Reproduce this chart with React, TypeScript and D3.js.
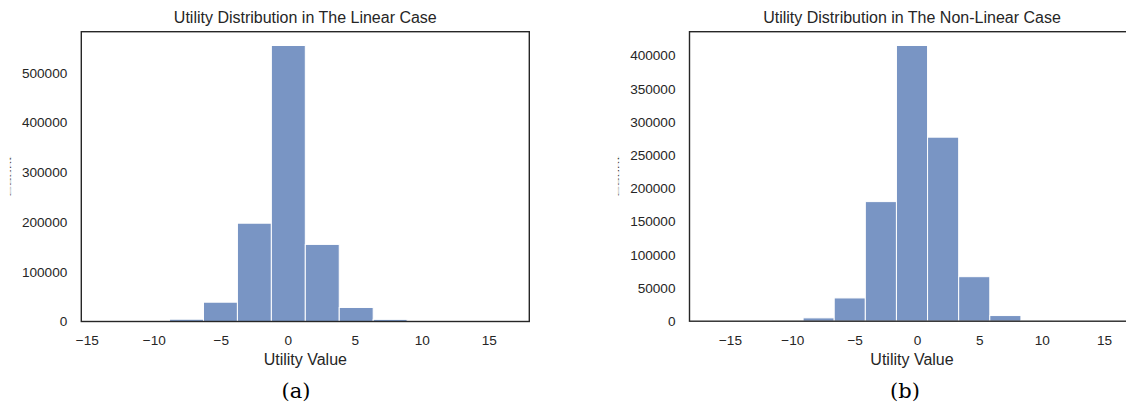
import React from "react";
import * as d3 from "d3";

// ---- data ----
const linearBinStart = -13.93;
const linearBinWidth = 2.533;
const linearCounts = [3, 300, 4600, 38800, 197500, 554500, 154900, 28200, 4300, 300, 20, 2];

const nonLinearBinStart = -16.66;
const nonLinearBinWidth = 2.495;
const nonLinearCounts = [3, 50, 600, 5000, 35000, 180000, 415000, 277000, 67000, 8500, 600, 40, 3];

const xTickValues = [-15, -10, -5, 0, 5, 10, 15];
const linearYTicks = [0, 100000, 200000, 300000, 400000, 500000];
const nonLinearYTicks = [0, 50000, 100000, 150000, 200000, 250000, 300000, 350000, 400000];

const titles = ["Utility Distribution in The Linear Case", "Utility Distribution in The Non-Linear Case"];
const captions = ["(a)", "(b)"];
const xLabel = "Utility Value";
const yLabel = "Count";

const FONT = "'Liberation Sans', Arial, Helvetica, sans-serif";
const BAR = "#4c72b0";
const INK = "#262626";

type PanelProps = {
  left: number;
  width: number;
  top: number;
  bottom: number;
  start: number;
  binWidth: number;
  counts: number[];
  yTicks: number[];
  title: string;
  caption: string;
  captionX: number;
};

function Panel(p: PanelProps) {
  const n = p.counts.length;
  const dataMin = p.start;
  const dataMax = p.start + n * p.binWidth;
  const pad = (dataMax - dataMin) * 0.05;
  const x = d3.scaleLinear().domain([dataMin - pad, dataMax + pad]).range([p.left, p.left + p.width]);
  const maxC = d3.max(p.counts) as number;
  const y = d3.scaleLinear().domain([0, maxC * 1.05]).range([p.bottom, p.top]);
  const bins = p.counts.map((c, i) => ({ x0: p.start + i * p.binWidth, x1: p.start + (i + 1) * p.binWidth, c }));
  const cx = p.left + p.width / 2;
  const cy = (p.top + p.bottom) / 2;
  return (
    <g>
      <text x={cx} y={23} textAnchor="middle" fontFamily={FONT} fontSize={16} fill={INK}>
        {p.title}
      </text>
      {bins.map((b, i) => (
        <rect
          key={i}
          x={x(b.x0)}
          y={y(b.c)}
          width={x(b.x1) - x(b.x0)}
          height={y(0) - y(b.c)}
          fill={BAR}
          fillOpacity={0.75}
          stroke="#ffffff"
          strokeWidth={1}
        />
      ))}
      <rect x={p.left} y={p.top} width={p.width} height={p.bottom - p.top} fill="none" stroke={INK} strokeWidth={1.4} />
      {p.yTicks.map((t) => (
        <text key={t} x={p.left - 14} y={y(t)} dy="0.36em" textAnchor="end" fontFamily={FONT} fontSize={13.6} fill={INK}>
          {t}
        </text>
      ))}
      {xTickValues.map((t) => (
        <text key={t} x={x(t)} y={345} textAnchor="middle" fontFamily={FONT} fontSize={13.6} fill={INK}>
          {t < 0 ? "\u2212" + Math.abs(t) : String(t)}
        </text>
      ))}
      <text x={cx} y={364.5} textAnchor="middle" fontFamily={FONT} fontSize={16} fill={INK}>
        {xLabel}
      </text>
      <text
        transform={`translate(${p.left - 71.5},${cy}) rotate(-90) scale(1,0.16)`}
        textAnchor="middle"
        fontFamily={FONT}
        fontSize={15}
        fill="#333"
        dy="0.35em"
      >
        {yLabel}
      </text>
      <text x={p.captionX} y={398} textAnchor="middle" fontFamily="'DejaVu Serif', 'Liberation Serif', serif" fontSize={21} fill="#000">
        {p.caption}
      </text>
    </g>
  );
}

export default function App() {
  return (
    <div style={{ position: "absolute", left: 0, top: 0 }}>
      <svg width={1126} height={405} style={{ display: "block", background: "#fff" }}>
        <Panel
          left={81.3}
          width={448}
          top={31.7}
          bottom={321.5}
          start={linearBinStart}
          binWidth={linearBinWidth}
          counts={linearCounts}
          yTicks={linearYTicks}
          title={titles[0]}
          caption={captions[0]}
          captionX={296}
        />
        <Panel
          left={689.5}
          width={445}
          top={31.7}
          bottom={321.2}
          start={nonLinearBinStart}
          binWidth={nonLinearBinWidth}
          counts={nonLinearCounts}
          yTicks={nonLinearYTicks}
          title={titles[1]}
          caption={captions[1]}
          captionX={905}
        />
      </svg>
    </div>
  );
}
